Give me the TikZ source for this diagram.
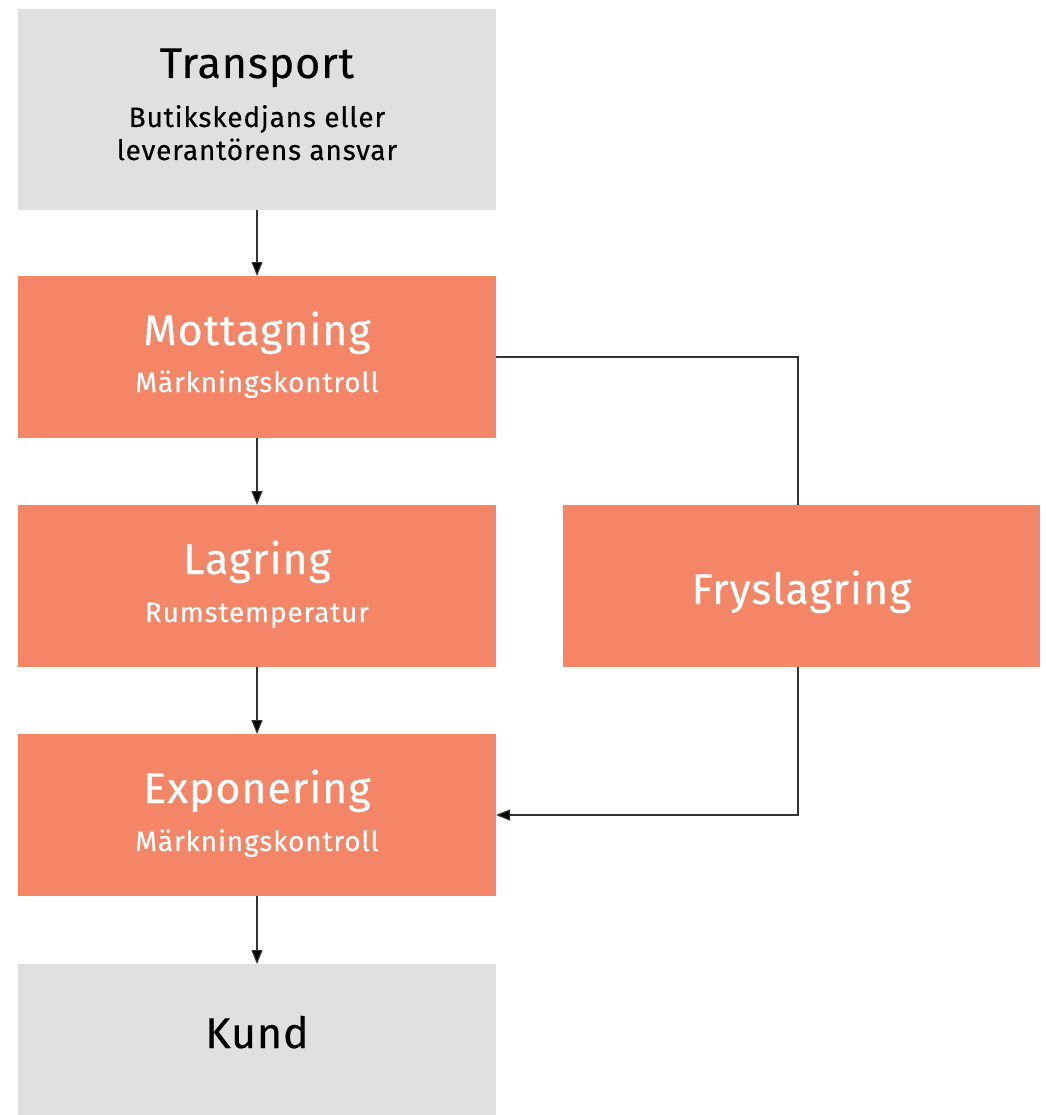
\documentclass[tikz,border=0pt]{standalone}
\usepackage{fontspec}
\setmainfont{Fira Sans}
\newfontfamily\titlefont[LetterSpace=2, FakeBold=0.4]{Fira Sans}
\newfontfamily\subfont[LetterSpace=3, FakeBold=0.3]{Fira Sans}
\usetikzlibrary{arrows.meta}
\definecolor{boxgray}{HTML}{E0E0E0}
\definecolor{boxorange}{HTML}{F48567}
\definecolor{linegray}{HTML}{333333}
\tikzset{
  box/.style={rectangle, inner sep=0pt, outer sep=0pt, minimum width=478pt},
  graybox/.style={box, fill=boxgray},
  orangebox/.style={box, fill=boxorange},
  title/.style={anchor=base, inner sep=0pt, font=\titlefont\fontsize{43}{50}\selectfont},
  sub/.style={anchor=base, inner sep=0pt, font=\subfont\fontsize{28}{33}\selectfont},
  conn/.style={draw=linegray, line width=1.2pt},
  arr/.style={conn, -{Triangle[length=14pt, width=11pt, fill=black]}}
}
\begin{document}
\begin{tikzpicture}[x=1pt, y=-1pt]
\useasboundingbox (0,0) rectangle (1045,1115);
% boxes
\node[graybox, minimum height=201pt] (transport) at (257,109.5) {};
\node[orangebox, minimum height=162pt] (mott) at (257,357) {};
\node[orangebox, minimum height=162pt] (lag) at (257,586) {};
\node[orangebox, minimum height=162pt, minimum width=477pt] (frys) at (801.5,586) {};
\node[orangebox, minimum height=162pt] (expo) at (257,815) {};
\node[graybox, minimum height=151pt] (kund) at (257,1039.5) {};
% texts
\node[title] (t1) at (257,78) {Transport};
\node[sub] (s1a) at (257,127) {Butikskedjans eller};
\node[sub] (s1b) at (257,160) {leverantörens ansvar};
\node[title, text=white] (t2) at (257,345) {Mottagning};
\node[sub, text=white] (s2) at (257,392) {Märkningskontroll};
\node[title, text=white] (t3) at (257,574) {Lagring};
\node[sub, text=white] (s3) at (257,622) {Rumstemperatur};
\node[title, text=white] (t4) at (801.5,604) {Fryslagring};
\node[title, text=white] (t5) at (257,803) {Exponering};
\node[sub, text=white] (s5) at (257,851) {Märkningskontroll};
\node[title] (t6) at (257,1048) {Kund};
% connectors
\draw[arr] (transport.south) -- (mott.north);
\draw[arr] (mott.south) -- (lag.north);
\draw[arr] (lag.south) -- (expo.north);
\draw[arr] (expo.south) -- (kund.north);
\coordinate (c1) at (798,357);
\coordinate (c2) at (798,815);
\draw[conn] (mott.east) -- (c1) -- (c1 |- frys.north);
\draw[arr] (c2 |- frys.south) -- (c2) -- (expo.east);
\end{tikzpicture}
\end{document}
